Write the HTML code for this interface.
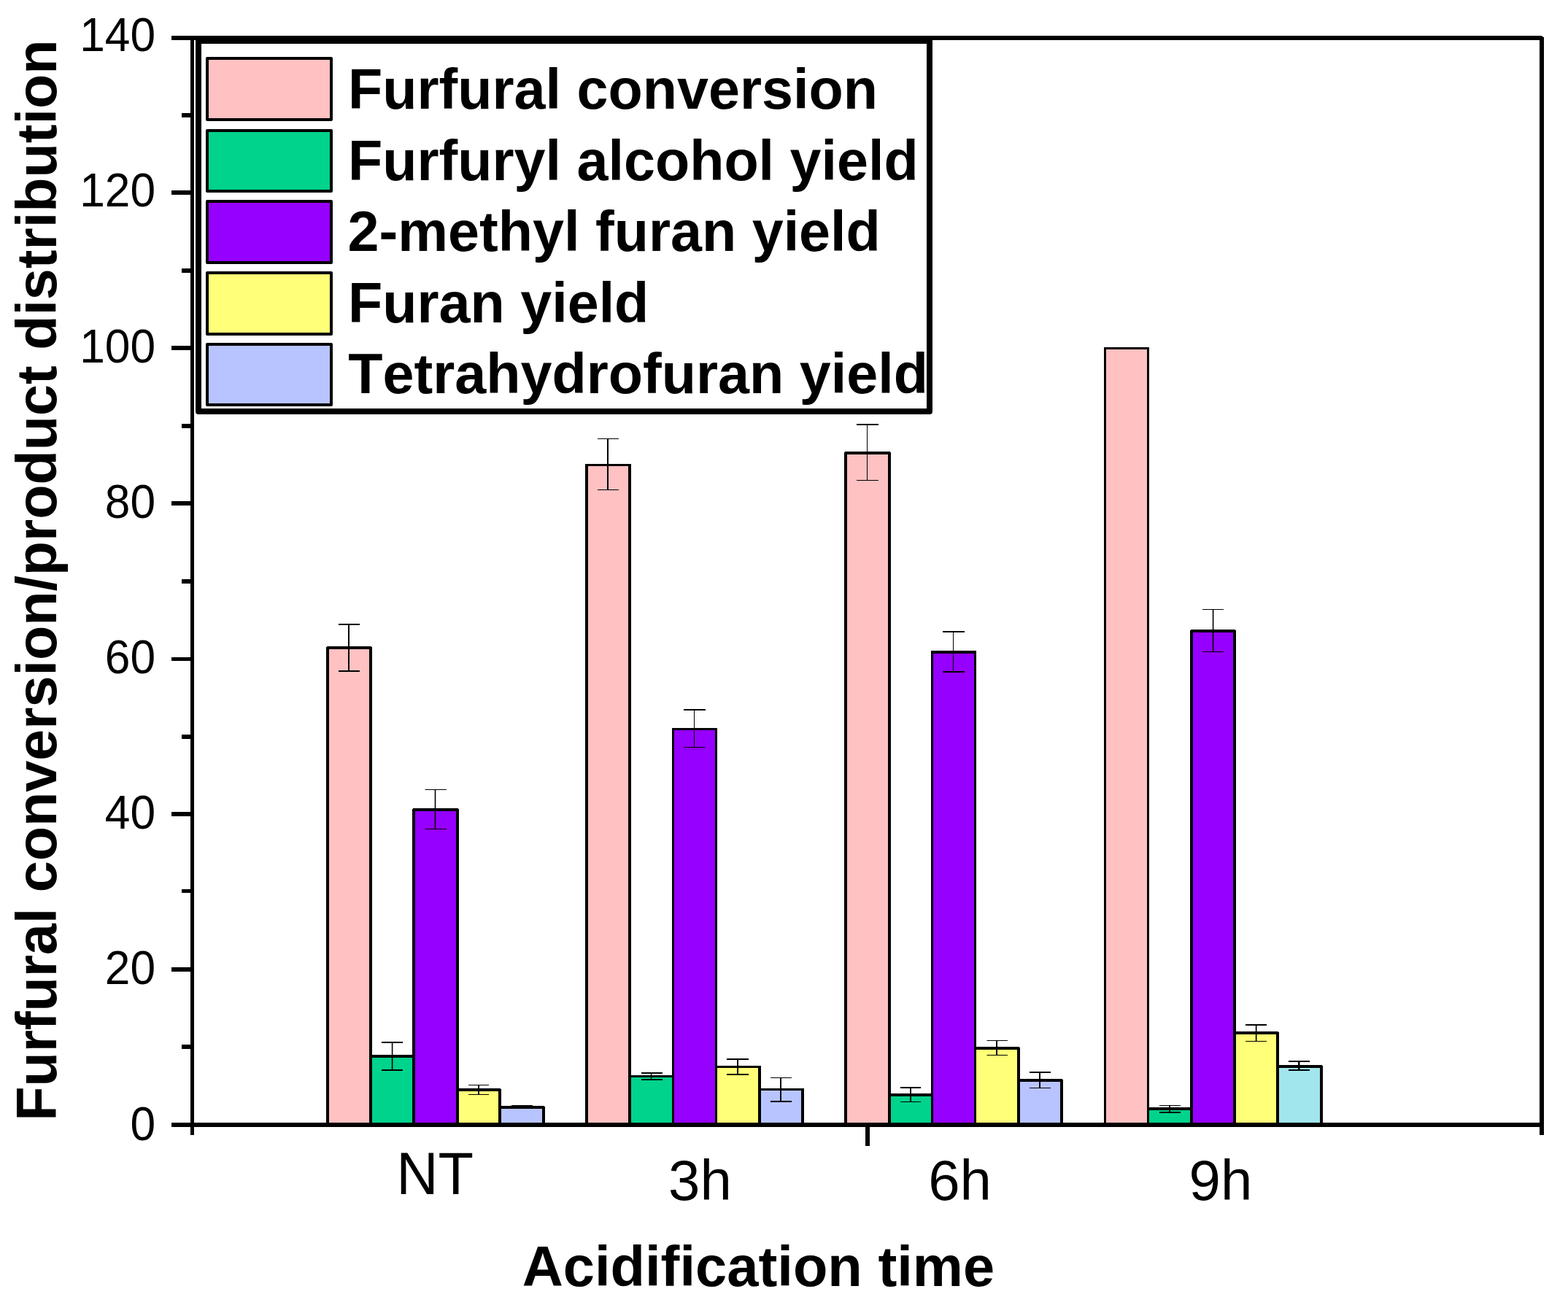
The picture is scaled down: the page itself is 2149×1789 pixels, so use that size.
<!DOCTYPE html>
<html lang="en">
<head>
<meta charset="utf-8">
<title>Furfural conversion / product distribution vs acidification time</title>
<style>
html,body{margin:0;padding:0;background:#fff;}
body{width:2149px;height:1789px;}
svg{display:block;}
text{font-kerning:none;font-variant-ligatures:none;}
</style>
</head>
<body>
<svg width="2149" height="1789" viewBox="0 0 2149 1789">
<rect x="0" y="0" width="2149" height="1789" fill="#ffffff"/>
<g shape-rendering="crispEdges">
<rect x="448" y="887" width="61" height="653" fill="#FFC1C1"/>
<rect x="507" y="1447" width="61" height="93" fill="#00D38B"/>
<rect x="566" y="1109" width="62" height="431" fill="#9600FF"/>
<rect x="626" y="1493" width="60" height="47" fill="#FFFF78"/>
<rect x="684" y="1517" width="62" height="23" fill="#B8C4FF"/>
<rect x="803" y="637" width="61" height="903" fill="#FFC1C1"/>
<rect x="862" y="1475" width="61" height="65" fill="#00D38B"/>
<rect x="922" y="999" width="60" height="541" fill="#9600FF"/>
<rect x="981" y="1462" width="61" height="78" fill="#FFFF78"/>
<rect x="1040" y="1493" width="61" height="47" fill="#B8C4FF"/>
<rect x="1158" y="620" width="62" height="920" fill="#FFC1C1"/>
<rect x="1218" y="1500" width="60" height="40" fill="#00D38B"/>
<rect x="1277" y="893" width="60" height="647" fill="#9600FF"/>
<rect x="1336" y="1436" width="61" height="104" fill="#FFFF78"/>
<rect x="1395" y="1480" width="61" height="60" fill="#B8C4FF"/>
<rect x="1514" y="477" width="60" height="1063" fill="#FFC1C1"/>
<rect x="1573" y="1519" width="61" height="21" fill="#00D38B"/>
<rect x="1632" y="864" width="61" height="676" fill="#9600FF"/>
<rect x="1691" y="1415" width="61" height="125" fill="#FFFF78"/>
<rect x="1750" y="1461" width="62" height="79" fill="#A0E6EC"/>
<g fill="#000">
<rect x="447" y="886" width="63" height="4" fill="#000"/>
<rect x="506" y="1446" width="63" height="4" fill="#000"/>
<rect x="565" y="1108" width="64" height="4" fill="#000"/>
<rect x="625" y="1492" width="62" height="4" fill="#000"/>
<rect x="683" y="1516" width="64" height="4" fill="#000"/>
<rect x="447" y="886" width="4" height="654" fill="#000"/>
<rect x="506" y="886" width="4" height="654" fill="#000"/>
<rect x="565" y="1108" width="4" height="432" fill="#000"/>
<rect x="625" y="1108" width="4" height="432" fill="#000"/>
<rect x="683" y="1492" width="4" height="48" fill="#000"/>
<rect x="743" y="1516" width="4" height="24" fill="#000"/>
<rect x="802" y="636" width="63" height="3" fill="#000"/>
<rect x="861" y="1474" width="63" height="3" fill="#000"/>
<rect x="921" y="998" width="62" height="3" fill="#000"/>
<rect x="980" y="1461" width="63" height="3" fill="#000"/>
<rect x="1039" y="1492" width="63" height="3" fill="#000"/>
<rect x="802" y="636" width="4" height="904" fill="#000"/>
<rect x="861" y="636" width="4" height="904" fill="#000"/>
<rect x="921" y="998" width="3" height="542" fill="#000"/>
<rect x="980" y="998" width="3" height="542" fill="#000"/>
<rect x="1039" y="1461" width="4" height="79" fill="#000"/>
<rect x="1098" y="1492" width="4" height="48" fill="#000"/>
<rect x="1157" y="619" width="64" height="4" fill="#000"/>
<rect x="1217" y="1499" width="62" height="4" fill="#000"/>
<rect x="1276" y="892" width="62" height="4" fill="#000"/>
<rect x="1335" y="1435" width="63" height="4" fill="#000"/>
<rect x="1394" y="1479" width="63" height="4" fill="#000"/>
<rect x="1157" y="619" width="4" height="921" fill="#000"/>
<rect x="1217" y="619" width="4" height="921" fill="#000"/>
<rect x="1276" y="892" width="3" height="648" fill="#000"/>
<rect x="1335" y="892" width="3" height="648" fill="#000"/>
<rect x="1394" y="1435" width="4" height="105" fill="#000"/>
<rect x="1453" y="1479" width="4" height="61" fill="#000"/>
<rect x="1513" y="476" width="62" height="3" fill="#000"/>
<rect x="1572" y="1518" width="63" height="4" fill="#000"/>
<rect x="1631" y="863" width="63" height="4" fill="#000"/>
<rect x="1690" y="1414" width="63" height="4" fill="#000"/>
<rect x="1749" y="1460" width="64" height="4" fill="#000"/>
<rect x="1513" y="476" width="3" height="1064" fill="#000"/>
<rect x="1572" y="476" width="3" height="1064" fill="#000"/>
<rect x="1631" y="863" width="4" height="677" fill="#000"/>
<rect x="1690" y="863" width="4" height="677" fill="#000"/>
<rect x="1749" y="1414" width="4" height="126" fill="#000"/>
<rect x="1809" y="1460" width="4" height="80" fill="#000"/>
</g>
<g fill="#fff">
<rect x="447" y="886" width="1" height="1" fill="#fff"/>
<rect x="509" y="886" width="1" height="1" fill="#fff"/>
<rect x="565" y="1108" width="1" height="1" fill="#fff"/>
<rect x="628" y="1108" width="1" height="1" fill="#fff"/>
<rect x="686" y="1492" width="1" height="1" fill="#fff"/>
<rect x="746" y="1516" width="1" height="1" fill="#fff"/>
<rect x="1157" y="619" width="1" height="1" fill="#fff"/>
<rect x="1220" y="619" width="1" height="1" fill="#fff"/>
<rect x="1397" y="1435" width="1" height="1" fill="#fff"/>
<rect x="1456" y="1479" width="1" height="1" fill="#fff"/>
<rect x="1631" y="863" width="1" height="1" fill="#fff"/>
<rect x="1693" y="863" width="1" height="1" fill="#fff"/>
<rect x="1752" y="1414" width="1" height="1" fill="#fff"/>
<rect x="1812" y="1460" width="1" height="1" fill="#fff"/>
</g>
</g>
<g fill="#000">
<rect x="464" y="855" width="29" height="2" fill="#000"/>
<rect x="464" y="919" width="29" height="2" fill="#000"/>
<rect x="477" y="855" width="2" height="66" fill="#000"/>
<rect x="523" y="1428" width="29" height="2" fill="#000"/>
<rect x="523" y="1466" width="29" height="2" fill="#000"/>
<rect x="536.8" y="1428" width="1.6" height="40" fill="#000"/>
<rect x="582.5" y="1082" width="29.5" height="1" fill="#000"/>
<rect x="582.5" y="1136" width="29.5" height="1" fill="#000"/>
<rect x="595.7" y="1082" width="1.6" height="55" fill="#000"/>
<rect x="642" y="1487" width="28" height="1" fill="#000"/>
<rect x="642" y="1500" width="28" height="1" fill="#000"/>
<rect x="655" y="1487" width="2" height="14" fill="#000"/>
<rect x="701" y="1515" width="29" height="1" fill="#000"/>
<rect x="701" y="1518" width="29" height="1" fill="#000"/>
<rect x="714.5" y="1515" width="1.5" height="4" fill="#000"/>
<rect x="819" y="601" width="29" height="1" fill="#000"/>
<rect x="819" y="671" width="29" height="1" fill="#000"/>
<rect x="832" y="601" width="2" height="71" fill="#000"/>
<rect x="879" y="1470" width="29" height="2" fill="#000"/>
<rect x="879" y="1479" width="29" height="2" fill="#000"/>
<rect x="891.8" y="1470" width="1.5" height="11" fill="#000"/>
<rect x="937" y="972" width="30" height="2" fill="#000"/>
<rect x="937" y="1024" width="30" height="1" fill="#000"/>
<rect x="951" y="972" width="1" height="53" fill="#000"/>
<rect x="996" y="1451" width="30" height="2" fill="#000"/>
<rect x="996" y="1472" width="30" height="2" fill="#000"/>
<rect x="1010" y="1451" width="2" height="23" fill="#000"/>
<rect x="1056" y="1477" width="29" height="1" fill="#000"/>
<rect x="1056" y="1509" width="29" height="2" fill="#000"/>
<rect x="1069" y="1477" width="2" height="34" fill="#000"/>
<rect x="1174" y="581" width="30" height="2" fill="#000"/>
<rect x="1174" y="658" width="30" height="1" fill="#000"/>
<rect x="1188" y="581" width="1" height="78" fill="#000"/>
<rect x="1234" y="1490" width="28" height="2" fill="#000"/>
<rect x="1234" y="1510" width="28" height="1" fill="#000"/>
<rect x="1247" y="1490" width="2" height="21" fill="#000"/>
<rect x="1292" y="865" width="30" height="2" fill="#000"/>
<rect x="1292" y="920" width="30" height="2" fill="#000"/>
<rect x="1306" y="865" width="1" height="57" fill="#000"/>
<rect x="1352.5" y="1426" width="28.5" height="1" fill="#000"/>
<rect x="1352.5" y="1446" width="28.5" height="1" fill="#000"/>
<rect x="1365" y="1426" width="2" height="21" fill="#000"/>
<rect x="1411" y="1469" width="29" height="2" fill="#000"/>
<rect x="1411" y="1491" width="29" height="1" fill="#000"/>
<rect x="1424" y="1469" width="2" height="23" fill="#000"/>
<rect x="1589" y="1515" width="29" height="1" fill="#000"/>
<rect x="1589" y="1524" width="29" height="2" fill="#000"/>
<rect x="1602" y="1515" width="2" height="11" fill="#000"/>
<rect x="1648" y="835" width="29" height="1" fill="#000"/>
<rect x="1648" y="893" width="29" height="1" fill="#000"/>
<rect x="1661.8" y="835" width="1.6" height="59" fill="#000"/>
<rect x="1707" y="1404" width="29" height="2" fill="#000"/>
<rect x="1707" y="1427" width="29" height="1" fill="#000"/>
<rect x="1720.8" y="1404" width="1.7" height="24" fill="#000"/>
<rect x="1766" y="1454" width="29" height="2" fill="#000"/>
<rect x="1766" y="1466" width="29" height="2" fill="#000"/>
<rect x="1779" y="1454" width="2.5" height="14" fill="#000"/>
</g>
<g fill="#000" shape-rendering="crispEdges">
<rect x="261" y="49" width="5" height="1507" fill="#000"/>
<rect x="2110" y="49" width="6" height="1507" fill="#000"/>
<rect x="235" y="49" width="1881" height="6" fill="#000"/>
<rect x="235" y="1539" width="1881" height="6" fill="#000"/>
<rect x="1186" y="1539" width="6" height="32" fill="#000"/>
<rect x="235" y="261" width="26" height="6" fill="#000"/>
<rect x="235" y="474" width="26" height="6" fill="#000"/>
<rect x="235" y="687" width="26" height="6" fill="#000"/>
<rect x="235" y="901" width="26" height="5" fill="#000"/>
<rect x="235" y="1113" width="26" height="6" fill="#000"/>
<rect x="235" y="1326" width="26" height="6" fill="#000"/>
<rect x="249" y="155" width="12" height="6" fill="#000"/>
<rect x="249" y="368" width="12" height="6" fill="#000"/>
<rect x="249" y="581" width="12" height="6" fill="#000"/>
<rect x="249" y="794" width="12" height="6" fill="#000"/>
<rect x="249" y="1007" width="12" height="6" fill="#000"/>
<rect x="249" y="1219" width="12" height="5" fill="#000"/>
<rect x="249" y="1432" width="12" height="6" fill="#000"/>
<rect x="2113" y="49" width="3" height="1" fill="#fff"/>
<rect x="2115" y="50" width="1" height="1" fill="#fff"/>
</g>
<g font-family="'Liberation Sans', Arial, Helvetica, sans-serif" fill="#000">
<g font-size="62.3" text-anchor="end">
<text transform="translate(213.1 1562.50) scale(1 1.04)">0</text>
<text transform="translate(213.1 1349.30) scale(1 1.04)">20</text>
<text transform="translate(213.1 1136.10) scale(1 1.04)">40</text>
<text transform="translate(213.1 922.90) scale(1 1.04)">60</text>
<text transform="translate(213.1 709.70) scale(1 1.04)">80</text>
<text transform="translate(213.1 496.50) scale(1 1.04)">100</text>
<text transform="translate(213.1 283.30) scale(1 1.04)">120</text>
<text transform="translate(213.1 70.10) scale(1 1.04)">140</text>
</g>
<g font-size="78" text-anchor="middle">
<text transform="translate(596.1 1637.3) scale(1.018 1.04)">NT</text>
<text x="959.5" y="1645.4">3h</text>
<text x="1315.6" y="1645.4">6h</text>
<text x="1672.9" y="1645.4">9h</text>
</g>
<g font-weight="bold" text-anchor="middle">
<text x="1039.4" y="1763.2" font-size="77.7">Acidification time</text>
<text transform="translate(77.2 795.7) rotate(-90)" font-size="77.34">Furfural conversion/product distribution</text>
</g>
<rect x="272" y="56" width="1002" height="508" fill="#fff" stroke="#000" stroke-width="8" stroke-linejoin="round"/>
<g stroke="#000" stroke-width="4" stroke-linejoin="round">
<rect x="284" y="80" width="170" height="84" fill="#FFC1C1"/>
<rect x="284" y="179" width="170" height="83" fill="#00D38B"/>
<rect x="284" y="276" width="170" height="84" fill="#9600FF"/>
<rect x="284" y="374" width="170" height="84" fill="#FFFF78"/>
<rect x="284" y="472" width="170" height="83" fill="#B8C4FF"/>
</g>
<g font-size="77.3" font-weight="bold" text-anchor="start">
<text x="477.0" y="149.0">Furfural conversion</text>
<text x="477.0" y="246.5">Furfuryl alcohol yield</text>
<text x="476.6" y="344.0">2-methyl furan yield</text>
<text x="477.0" y="441.5">Furan yield</text>
<text x="477.3" y="539.0">Tetrahydrofuran yield</text>
</g>
</g>
</svg>
</body>
</html>
